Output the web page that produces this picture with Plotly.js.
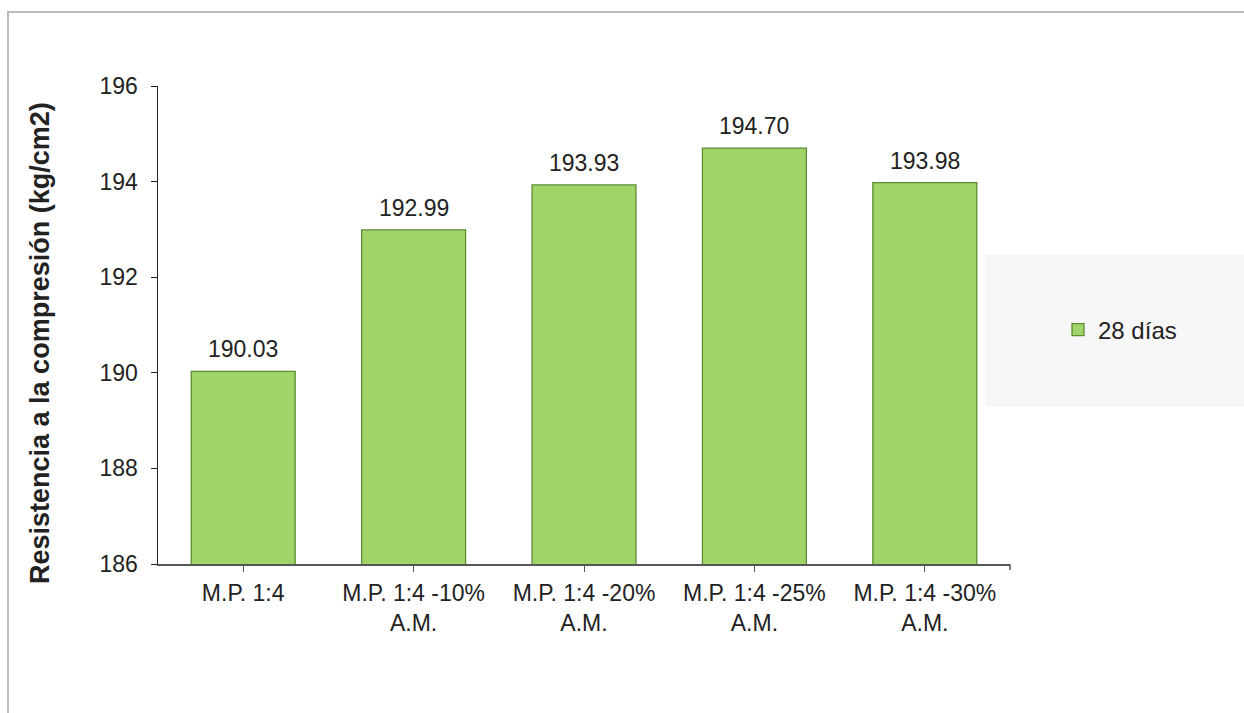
<!DOCTYPE html>
<html>
<head>
<meta charset="utf-8">
<script src="https://cdn.plot.ly/plotly-3.0.1.min.js"></script>
<style>
html,body{margin:0;padding:0;background:#fff;}
#frame{position:absolute;left:7px;top:11px;width:1237px;height:702px;border-top:2px solid #bcbcbc;border-left:2px solid #bcbcbc;box-sizing:border-box;}
#chart{position:absolute;left:0;top:0;width:1244px;height:713px;}
</style>
</head>
<body>
<div id="frame"></div>
<div id="chart"></div>
<script>
const categories = ["M.P. 1:4", "M.P. 1:4 -10%<br>A.M.", "M.P. 1:4 -20%<br>A.M.", "M.P. 1:4 -25%<br>A.M.", "M.P. 1:4 -30%<br>A.M."];
const values28 = [190.03, 192.99, 193.93, 194.70, 193.98];
const seriesName = "28 días";
const yTitle = "Resistencia a la compresión (kg/cm2)";
const yTicks = [186, 188, 190, 192, 194, 196];

const font = "Liberation Sans, Arial, sans-serif";
const trace = {
  type: "bar",
  x: categories,
  y: values28,
  name: seriesName,
  width: 0.61,
  marker: {color: "#a0d468", line: {color: "#5b8c31", width: 1.3}},
  showlegend: true
};
const annotations = categories.map((c, i) => ({
  x: c, y: values28[i], xref: "x", yref: "y",
  text: values28[i].toFixed(2), showarrow: false,
  yanchor: "bottom", yshift: 7,
  font: {family: font, size: 23, color: "#222"}
}));
annotations.push({
  text: "<b>" + yTitle + "</b>", xref: "paper", yref: "paper",
  x: (40-158)/852, y: (564-343)/478, xanchor: "center", yanchor: "middle",
  textangle: -90, showarrow: false,
  font: {family: font, size: 27, color: "#222"}
});
const layout = {
  width: 1244, height: 713,
  margin: {l: 158, r: 234, t: 86, b: 149},
  paper_bgcolor: "rgba(0,0,0,0)",
  plot_bgcolor: "rgba(0,0,0,0)",
  font: {family: font, size: 23, color: "#222"},
  xaxis: {
    type: "category",
    range: [-0.5, 4.5],
    showline: true, linecolor: "#555", linewidth: 1.5,
    ticks: "outside", ticklen: 6, tickcolor: "#555",
    ticklabelstandoff: 2,
    tickfont: {family: font, size: 23, color: "#222"},
    showgrid: false, zeroline: false, fixedrange: true
  },
  yaxis: {
    range: [186, 196],
    tickvals: yTicks,
    showline: true, linecolor: "#222", linewidth: 1.5,
    ticks: "outside", ticklen: 6, tickcolor: "#222",
    ticklabelstandoff: 8,
    tickfont: {family: font, size: 23, color: "#222"},
    showgrid: false, zeroline: false
  },
  annotations: annotations,
  shapes: [
    {type: "rect", xref: "paper", yref: "paper", x0: (985-158)/852, x1: (1244-158)/852, y0: (564-407)/478, y1: (564-255)/478, fillcolor: "#f7f7f7", line: {width: 0}, layer: "below"},
    {type: "line", xref: "paper", yref: "paper", x0: 1, x1: 1, y0: 0, y1: -6/478, line: {color: "#555", width: 1.5}}
  ],
  legend: {
    x: (1058-158)/852, xanchor: "left", y: (564-330)/478, yanchor: "middle",
    bgcolor: "rgba(0,0,0,0)", font: {family: font, size: 24, color: "#222"},
    itemwidth: 30
  },
  showlegend: true
};
Plotly.newPlot("chart", [trace], layout, {displayModeBar: false, staticPlot: true});
</script>
</body>
</html>
